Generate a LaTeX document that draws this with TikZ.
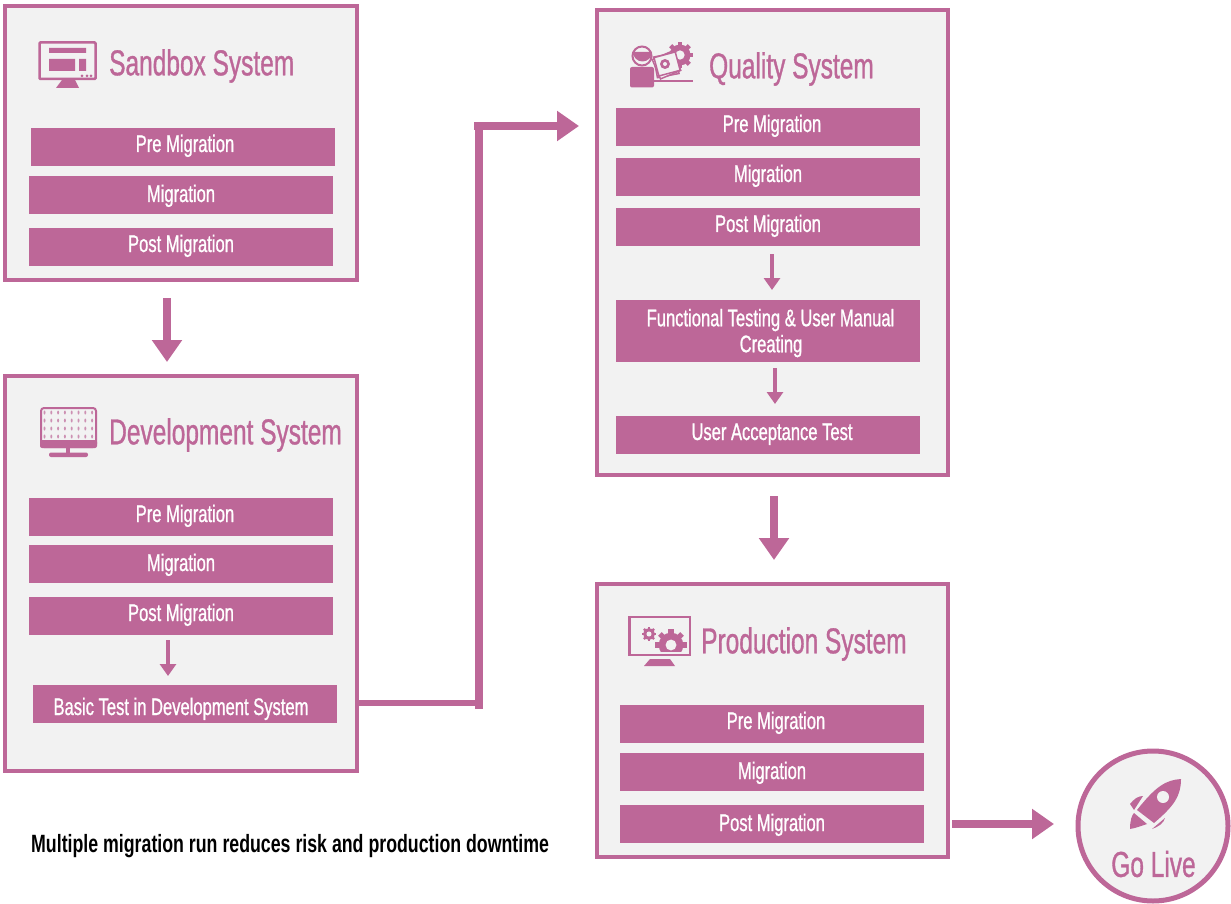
\documentclass[tikz,border=0pt]{standalone}
\usepackage{fontspec}
\setmainfont[FakeStretch=0.69,FakeBold=0.9]{Liberation Sans}
\newfontfamily\titlefont[FakeStretch=0.68,FakeBold=0.9]{Liberation Sans}
\newfontfamily\captionfont[FakeStretch=0.71]{Liberation Sans Bold}
\usetikzlibrary{arrows.meta}
\definecolor{mauve}{RGB}{189,103,152}
\definecolor{panel}{RGB}{242,242,242}
\tikzset{
  system/.style={draw=mauve,fill=panel,line width=4pt,outer sep=0pt,inner sep=0pt},
  stage/.style={fill=mauve,text=white,font=\fontsize{24}{26}\selectfont,align=center,
    minimum width=304pt,minimum height=38pt,inner sep=0pt,outer sep=0pt,
    text height=16pt,text depth=6pt},
  lowered/.style={text height=16pt+#1,text depth=6pt-#1},
  title/.style={text=mauve,font=\titlefont\fontsize{36}{38}\selectfont,anchor=west,inner sep=0pt},
  bigarrow/.style={draw=mauve,line width=8pt,-{Triangle[length=22pt,width=29pt]}},
  smallarrow/.style={draw=mauve,line width=4pt,-{Triangle[length=12pt,width=16pt]}},
  icon/.style={fill=mauve,draw=none},
  gearicon/.pic={
    \foreach \a in {0,45,...,315}
      \fill[mauve,rotate=\a] (-.2,.8) rectangle (.2,1.2);
    \fill[mauve] (0,0) circle (.95);
    \fill[panel] (0,0) circle (.42);
  }
}
\begin{document}
\begin{tikzpicture}[x=1pt,y=-1pt]
  \useasboundingbox (0,0) rectangle (1231,904);
  % panels
  \node[system,minimum width=352pt,minimum height=274pt] (sandbox) at (181,143) {};
  \node[system,minimum width=352pt,minimum height=395pt] (dev) at (181,573.5) {};
  \node[system,minimum width=351pt,minimum height=465pt] (quality) at (772.5,242.5) {};
  \node[system,minimum width=351pt,minimum height=273pt] (prod) at (772.5,720.5) {};
  \node[draw=mauve,fill=panel,line width=5pt,circle,minimum size=150pt,inner sep=0pt,outer sep=0pt] (golive) at (1153,826) {};
  % titles
  \node[title] (sandboxtitle) at (109,66) {Sandbox System};
  \node[title] (devtitle) at (109,435) {Development System};
  \node[title] (qualitytitle) at (709,69) {Quality System};
  \node[title] (prodtitle) at (701,644) {Production System};
  \node[title,anchor=center] (golivetitle) at (1153.5,864) {Go Live};
  % sandbox stages
  \node[stage] (s1) at (183,147) {\hspace*{4pt}Pre Migration};
  \node[stage,lowered=2pt] (s2) at (181,195) {Migration};
  \node[stage] (s3) at (181,247) {Post Migration};
  % development stages
  \node[stage] (d1) at (181,517) {\hspace*{8pt}Pre Migration};
  \node[stage,lowered=2pt] (d2) at (181,564) {Migration};
  \node[stage] (d3) at (181,616) {Post Migration};
  \node[stage,lowered=6pt] (d4) at (185,704) {\hspace*{-8pt}Basic Test in Development System};
  % quality stages
  \node[stage] (q1) at (768,127) {\hspace*{8pt}Pre Migration};
  \node[stage] (q2) at (768,177) {Migration};
  \node[stage] (q3) at (768,227) {Post Migration};
  \node[stage,minimum height=62pt,text height=,text depth=] (q4) at (768,331)
    {\rule{0pt}{21.5pt}\hspace*{5pt}Functional Testing \& User Manual\\\hspace*{6pt}Creating};
  \node[stage] (q5) at (768,435) {\hspace*{8pt}User Acceptance Test};
  % production stages
  \node[stage] (p1) at (772,724) {\hspace*{8pt}Pre Migration};
  \node[stage,lowered=2pt] (p2) at (772,772) {Migration};
  \node[stage,lowered=2pt] (p3) at (772,824) {Post Migration};
  \node[font=\captionfont\fontsize{25}{27}\selectfont,anchor=west,inner sep=0pt] (note) at (31,846)
    {Multiple migration run reduces risk and production downtime};
  % connectors
  \coordinate (turn) at (479,703);
  \coordinate (entry) at (579,126);
  \coordinate (stub) at (474,126);
  \coordinate (foot) at (479,709);
  \coordinate (head) at (479,122);
  \draw[bigarrow,shorten <=18pt,shorten >=14pt] ([xshift=-14pt]sandbox.south) -- ([xshift=-14pt]dev.north);
  \draw[bigarrow,shorten <=21pt,shorten >=24pt] ([xshift=1.5pt]quality.south) -- ([xshift=1.5pt]prod.north);
  \draw[bigarrow,shorten <=4pt,shorten >=24pt] (prod.east |- p3) -- (golive.west |- p3);
  \draw[smallarrow,shorten <=5pt,shorten >=9pt] ([xshift=-13pt]d3.south) -- ([xshift=-17pt]d4.north);
  \draw[smallarrow,shorten <=8pt,shorten >=10pt] ([xshift=4pt]q3.south) -- ([xshift=4pt]q4.north);
  \draw[smallarrow,shorten <=6pt,shorten >=12pt] ([xshift=7pt]q4.south) -- ([xshift=7pt]q5.north);
  \draw[draw=mauve,line width=6pt] (dev.east |- turn) -- (turn);
  \draw[draw=mauve,line width=8pt] (foot) -- (head);
  \draw[bigarrow] (stub) -- (entry);
  % sandbox icon
  \draw[mauve,line width=2.5pt,rounded corners=1pt] (39.5,42.5) rectangle (95.5,79);
  \fill[icon] (49,48) rectangle (86,53) (49,59) rectangle (75,71) (79,59) rectangle (86,71);
  \fill[icon] (62,80) -- (75,80) -- (79,88) -- (56,88) -- cycle;
  \fill[icon] (82,76) circle (1.5) (87,76) circle (1.5) (91,76) circle (1.5);
  % development icon
  \draw[mauve,line width=2pt,rounded corners=3pt,fill=panel] (41,408) rectangle (96,447);
  \fill[icon,rounded corners=2pt] (40,440) rectangle (97,448);
  \fill[icon] (66,448) rectangle (70,453);
  \fill[icon,rounded corners=2pt] (49,452.5) rectangle (88,457);
  \foreach \r in {0,1,2,3}
    \foreach \c in {0,...,7}
      \fill[mauve!70!panel] (44.5+6.8*\c,412.5+8*\r) ellipse (1 and 2);
  % quality icon
  \fill[icon,rounded corners=2pt] (630,67) rectangle (654,87.5);
  \draw[mauve,line width=2pt,fill=panel] (642,56) circle (9.5);
  \fill[icon] (633,52) arc (180:0:9.5) -- cycle;
  \fill[icon] (654,80) rectangle (693,82.5);
  \begin{scope}
    \clip (668,38) rectangle (698,72);
    \pic[scale=11] at (680,55) {gearicon};
  \end{scope}
  \foreach \a in {-4,8} \draw[mauve,line width=1.5pt,fill=panel,rotate around={15+\a:(665,64)}] (655,55) rectangle (677,76);
  \draw[mauve,line width=1.5pt,fill=panel,rotate around={15:(665,64)}] (656,55) rectangle (678,74);
  \fill[icon] (665,64) circle (5);
  \fill[panel] (665,64) circle (2);
  % production icon
  \draw[mauve,line width=2.5pt] (629.5,617) rectangle (690,655);
  \fill[icon] (650,659) -- (670,659) -- (675,666) -- (644,666) -- cycle;
  \pic[scale=6] at (649,634) {gearicon};
  \begin{scope}
    \clip (650,625) rectangle (690,651);
    \pic[scale=13] at (671,645) {gearicon};
  \end{scope}
  % rocket icon
  \fill[icon] (1181,779) .. controls (1166,780) and (1156,786) .. (1137,810) -- (1154,823) .. controls (1174,806) and (1181,796) .. (1181,779) -- cycle;
  \fill[panel] (1163,797) circle (6);
  \fill[icon] (1130,804) .. controls (1134,799) and (1138,796) .. (1143,796) -- (1134,810) -- cycle;
  \fill[icon] (1130,829) .. controls (1130,820) and (1132,815) .. (1134,813) -- (1147,824) .. controls (1141,826) and (1136,828) .. (1130,829) -- cycle;
  \fill[icon] (1152,829) -- (1165,818) .. controls (1164,823) and (1158,827) .. (1152,829) -- cycle;
\end{tikzpicture}
\end{document}
